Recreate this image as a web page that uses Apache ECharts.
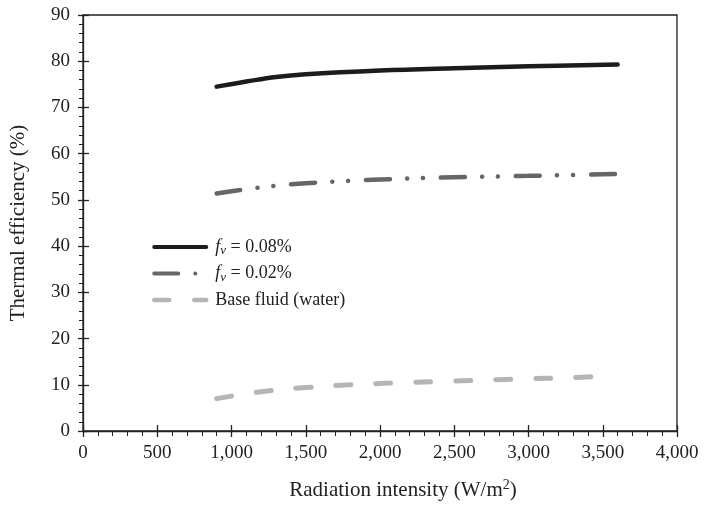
<!DOCTYPE html>
<html>
<head>
<meta charset="utf-8">
<script src="https://cdn.jsdelivr.net/npm/echarts@6/dist/echarts.min.js"></script>
<style>
  html, body { margin: 0; padding: 0; background: #fff; }
  #main { width: 704px; height: 506px; }
</style>
</head>
<body>
<div id="main"></div>
<script>
// values
var fv008 = [[900, 74.5], [1100, 75.6], [1300, 76.6], [1500, 77.2], [2000, 78.0], [2500, 78.5], [3000, 78.9], [3600, 79.3]];
var fv002 = [[900, 51.4], [1200, 52.7], [1500, 53.6], [2000, 54.4], [2500, 54.9], [3000, 55.2], [3600, 55.6]];
var water = [[900, 7.0], [1200, 8.5], [1500, 9.4], [1800, 10.0], [2100, 10.4], [2400, 10.7], [2700, 11.0], [3000, 11.3], [3250, 11.5], [3480, 11.8]];
var seriesNames = ['fv = 0.08%', 'fv = 0.02%', 'Base fluid (water)'];
var legendLabels = ['{i|f}{sub|v} = 0.08%', '{i|f}{sub|v} = 0.02%', 'Base fluid (water)'];

var font = 'Liberation Serif';
var chart = echarts.init(document.getElementById('main'));

var colors = ['#1c1c1c', '#666666', '#b5b5b5'];
var widths = [4.5, 4.5, 5];
var dashes = ['solid', [24, 17, 0.1, 16, 0.1, 17.8], [15, 25]];

function lineSeries(i, data) {
  return {
    name: seriesNames[i],
    type: 'line',
    data: data,
    smooth: 0.4,
    symbol: 'none',
    lineStyle: { color: colors[i], width: widths[i], type: dashes[i], cap: 'round' },
    itemStyle: { color: colors[i] }
  };
}

// second set of axes only to draw the inner half of the major ticks
var tickAxis = function (which) {
  return {
    type: 'value',
    min: 0,
    max: which === 'x' ? 4000 : 90,
    interval: which === 'x' ? 500 : 10,
    position: which === 'x' ? 'bottom' : 'left',
    axisLine: { show: false },
    axisLabel: { show: false },
    splitLine: { show: false },
    axisTick: { show: true, inside: true, length: 6, lineStyle: { color: '#222', width: 1.3 } }
  };
};

var option = {
  backgroundColor: '#ffffff',
  animation: false,
  grid: {
    left: 82, right: 27, top: 15, bottom: 74,
    show: true, borderColor: '#222', borderWidth: 1.3, backgroundColor: 'transparent'
  },
  legend: {
    orient: 'vertical',
    left: 147,
    top: 233,
    itemWidth: 52,
    itemHeight: 14,
    itemGap: 7,
    itemStyle: { opacity: 0 },
    data: seriesNames.map(function (n, i) {
      return {
        name: n,
        lineStyle: { color: colors[i], width: widths[i] - 0.5, type: dashes[i], cap: 'round' }
      };
    }),
    formatter: function (name) {
      return legendLabels[seriesNames.indexOf(name)];
    },
    textStyle: {
      fontFamily: font, fontSize: 18, color: '#222', padding: [0, 0, 0, 4],
      rich: {
        i: { fontFamily: font, fontSize: 18, fontStyle: 'italic', color: '#222' },
        sub: { fontFamily: font, fontSize: 13, fontStyle: 'italic', color: '#222', padding: [8, 0, 0, 0] }
      }
    }
  },
  xAxis: [{
    type: 'value',
    min: 0, max: 4000, interval: 500,
    name: 'Radiation intensity (W/m{sup|2})',
    nameLocation: 'middle',
    nameGap: 47,
    nameTextStyle: {
      fontFamily: font, fontSize: 21, color: '#222', padding: [0, 0, 0, 46],
      rich: { sup: { fontFamily: font, fontSize: 14, color: '#222', padding: [0, 0, 11, 0] } }
    },
    axisLine: { lineStyle: { color: '#222', width: 1.3 } },
    axisTick: { length: 6, lineStyle: { color: '#222', width: 1.3 } },
    minorTick: { show: true, splitNumber: 5, length: 5, lineStyle: { color: '#222', width: 1 } },
    axisLabel: {
      fontFamily: font, fontSize: 19, color: '#222', margin: 13,
      formatter: function (v) { return v.toLocaleString('en-US'); }
    },
    splitLine: { show: false }
  }, tickAxis('x')],
  yAxis: [{
    type: 'value',
    min: 0, max: 90, interval: 10,
    name: 'Thermal efficiency (%)',
    nameLocation: 'middle',
    nameGap: 54,
    nameTextStyle: { fontFamily: font, fontSize: 21, color: '#222' },
    axisLine: { lineStyle: { color: '#222', width: 1.3 } },
    axisTick: { length: 5, lineStyle: { color: '#222', width: 1.3 } },
    minorTick: { show: true, splitNumber: 5, length: 4, lineStyle: { color: '#222', width: 1 } },
    axisLabel: { fontFamily: font, fontSize: 19, color: '#222', margin: 13 },
    splitLine: { show: false }
  }, tickAxis('y')],
  series: [
    lineSeries(0, fv008),
    lineSeries(1, fv002),
    lineSeries(2, water)
  ]
};

chart.setOption(option);
</script>
</body>
</html>
